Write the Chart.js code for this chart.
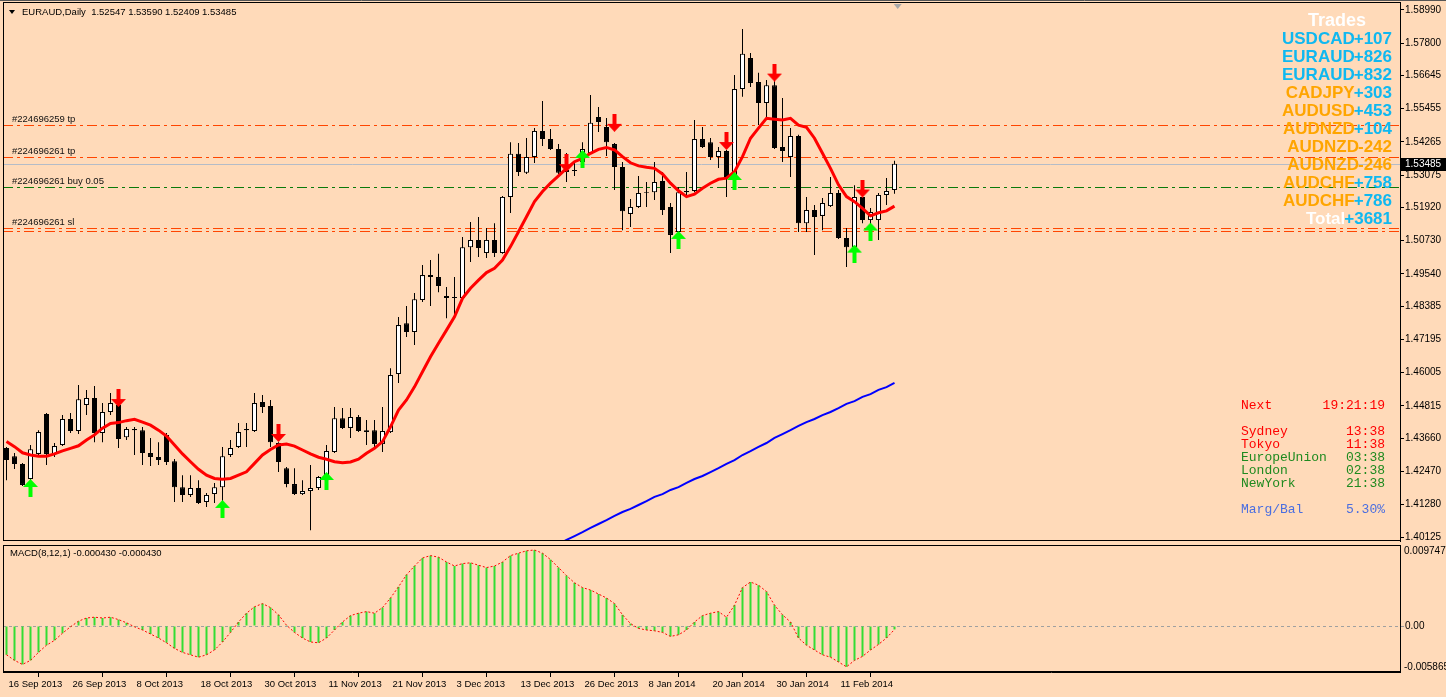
<!DOCTYPE html>
<html><head><meta charset="utf-8">
<script src="https://cdn.jsdelivr.net/npm/chart.js@4.4.1/dist/chart.umd.min.js"></script>
<style>
html,body{margin:0;padding:0;background:#FFDAB9;width:1446px;height:697px;overflow:hidden;}
#wrap{position:relative;width:1446px;height:697px;}
#c1{position:absolute;left:0;top:0;}
#c2{position:absolute;left:0;top:543px;}
</style></head><body>
<div id="wrap"><canvas id="c1" width="1446" height="543"></canvas><canvas id="c2" width="1446" height="154"></canvas></div>
<script>
// ---------------- DATA ----------------
const symbolTitle = "EURAUD,Daily";
const opens = [1.4331,1.4302,1.4274,1.4220,1.4310,1.4453,1.4310,1.4342,1.4435,1.4392,
1.4485,1.4510,1.4385,1.4460,1.4485,1.4370,1.4395,1.4395,1.4313,1.4299,
1.4378,1.4284,1.4191,1.4163,1.4188,1.4138,1.4166,1.4191,1.4306,1.4335,
1.4395,1.4392,1.4496,1.4481,1.4349,1.4259,1.4202,1.4166,1.4177,1.4188,
1.4216,1.4317,1.4438,1.4403,1.4442,1.4388,1.4395,1.4345,1.4388,1.4596,
1.4778,1.4746,1.4861,1.4950,1.4943,1.4875,1.4868,1.4868,1.5050,1.5076,
1.5029,1.5076,1.5029,1.5230,1.5384,1.5316,1.5373,1.5466,1.5437,1.5401,
1.5319,1.5323,1.5355,1.5387,1.5516,1.5480,1.5419,1.5337,1.5169,1.5194,
1.5244,1.5247,1.5287,1.5194,1.5104,1.5247,1.5251,1.5437,1.5426,1.5373,
1.5394,1.5301,1.5616,1.5727,1.5641,1.5566,1.5630,1.5409,1.5373,1.5448,
1.5136,1.5183,1.5162,1.5197,1.5244,1.5083,1.5050,1.5230,1.5147,1.5147,
1.5237,1.52547];
const highs = [1.4335,1.4313,1.4277,1.4342,1.4395,1.4456,1.4349,1.4449,1.4456,1.4557,
1.4539,1.4553,1.4492,1.4528,1.4489,1.4406,1.4406,1.4406,1.4367,1.4352,
1.4385,1.4292,1.4234,1.4234,1.4216,1.4170,1.4206,1.4335,1.4360,1.4421,
1.4421,1.4528,1.4521,1.4503,1.4352,1.4263,1.4259,1.4216,1.4270,1.4231,
1.4342,1.4478,1.4474,1.4474,1.4449,1.4431,1.4431,1.4478,1.4617,1.4800,
1.4839,1.4886,1.4986,1.5004,1.5026,1.4907,1.4943,1.5086,1.5140,1.5158,
1.5119,1.5136,1.5233,1.5426,1.5423,1.5441,1.5477,1.5573,1.5473,1.5419,
1.5387,1.5355,1.5426,1.5595,1.5552,1.5512,1.5423,1.5355,1.5222,1.5305,
1.5283,1.5355,1.5319,1.5208,1.5265,1.5319,1.5505,1.5480,1.5441,1.5409,
1.5398,1.5666,1.5831,1.5745,1.5674,1.5648,1.5648,1.5584,1.5477,1.5452,
1.5230,1.5201,1.5226,1.5301,1.5255,1.5119,1.5272,1.5230,1.5190,1.5244,
1.5298,1.53590];
const lows = [1.4216,1.4256,1.4195,1.4216,1.4306,1.4270,1.4299,1.4338,1.4385,1.4381,
1.4449,1.4352,1.4352,1.4449,1.4331,1.4360,1.4306,1.4270,1.4267,1.4270,
1.4270,1.4138,1.4138,1.4156,1.4131,1.4120,1.4134,1.4120,1.4299,1.4331,
1.4335,1.4388,1.4456,1.4335,1.4245,1.4191,1.4163,1.4163,1.4037,1.4181,
1.4213,1.4313,1.4399,1.4367,1.4388,1.4342,1.4335,1.4317,1.4385,1.4564,
1.4728,1.4700,1.4854,1.4839,1.4889,1.4796,1.4800,1.4861,1.4997,1.5015,
1.5011,1.5015,1.5026,1.5172,1.5305,1.5312,1.5351,1.5412,1.5398,1.5312,
1.5283,1.5305,1.5344,1.5384,1.5462,1.5376,1.5255,1.5111,1.5122,1.5190,
1.5194,1.5219,1.5165,1.5029,1.5101,1.5226,1.5247,1.5405,1.5362,1.5333,
1.5230,1.5290,1.5588,1.5623,1.5487,1.5516,1.5401,1.5355,1.5301,1.5104,
1.5104,1.5022,1.5111,1.5194,1.5079,1.4979,1.5029,1.5136,1.5076,1.5076,
1.5201,1.52409];
const closes = [1.4288,1.4274,1.4199,1.4327,1.4388,1.4310,1.4338,1.4435,1.4392,1.4506,
1.4510,1.4385,1.4460,1.4492,1.4363,1.4399,1.4399,1.4313,1.4299,1.4288,
1.4281,1.4191,1.4163,1.4188,1.4134,1.4163,1.4191,1.4302,1.4331,1.4388,
1.4399,1.4492,1.4478,1.4352,1.4281,1.4202,1.4166,1.4177,1.4188,1.4227,
1.4320,1.4438,1.4403,1.4442,1.4392,1.4395,1.4345,1.4392,1.4592,1.4771,
1.4746,1.4864,1.4950,1.4943,1.4911,1.4868,1.4872,1.5050,1.5076,1.5047,
1.5076,1.5029,1.5230,1.5384,1.5319,1.5373,1.5466,1.5437,1.5401,1.5316,
1.5326,1.5326,1.5401,1.5495,1.5498,1.5426,1.5337,1.5179,1.5194,1.5244,
1.5247,1.5283,1.5183,1.5094,1.5247,1.5251,1.5437,1.5409,1.5373,1.5394,
1.5301,1.5616,1.5742,1.5638,1.5566,1.5630,1.5405,1.5394,1.5448,1.5136,
1.5183,1.5158,1.5208,1.5244,1.5083,1.5050,1.5230,1.5147,1.5176,1.5237,
1.5251,1.53485];
// red moving average
const maValues = [1.4354,1.4336,1.4314,1.4306,1.4302,1.4302,1.4310,1.4321,1.4330,1.4339,
1.4360,1.4378,1.4402,1.4419,1.4422,1.4429,1.4434,1.4424,1.4413,1.4395,
1.4374,1.4342,1.4310,1.4282,1.4255,1.4234,1.4222,1.4219,1.4222,1.4234,
1.4246,1.4276,1.4306,1.4326,1.4342,1.4345,1.4338,1.4324,1.4310,1.4298,
1.4291,1.4282,1.4278,1.4281,1.4291,1.4312,1.4330,1.4354,1.4407,1.4467,
1.4503,1.4550,1.4604,1.4658,1.4706,1.4753,1.4801,1.4867,1.4903,1.4932,
1.4959,1.4974,1.5004,1.5052,1.5105,1.5159,1.5213,1.5249,1.5279,1.5305,
1.5332,1.5356,1.5368,1.5386,1.5400,1.5407,1.5398,1.5374,1.5352,1.5341,
1.5336,1.5332,1.5312,1.5279,1.5252,1.5231,1.5240,1.5261,1.5279,1.5293,
1.5297,1.5320,1.5374,1.5440,1.5476,1.5511,1.5508,1.5505,1.5511,1.5487,
1.5479,1.5440,1.5386,1.5332,1.5273,1.5231,1.5213,1.5189,1.5162,1.5173,
1.5180,1.5197];
// blue slow moving average, starting at bar index slowMaStart
const slowMaStart = 68;
const slowMaValues = [1.3973,1.3987,1.4002,1.4016,1.4030,1.4045,1.4059,1.4073,1.4088,1.4102,
1.4113,1.4127,1.4141,1.4156,1.4166,1.4181,1.4191,1.4206,1.4220,1.4231,
1.4245,1.4259,1.4274,1.4288,1.4306,1.4320,1.4335,1.4349,1.4367,1.4381,
1.4395,1.4410,1.4424,1.4435,1.4449,1.4460,1.4474,1.4489,1.4499,1.4514,
1.4524,1.4539,1.4549,1.4564];
// MACD(8,12,1) main = signal (signal period 1)
const macdValues = [-0.0036,-0.0043,-0.0048,-0.0043,-0.0033,-0.0024,-0.0018,-0.0009,-0.0001,0.0006,
0.0010,0.0011,0.0010,0.0011,0.0008,0.0004,-0.0001,-0.0005,-0.0010,-0.0015,
-0.0021,-0.0028,-0.0033,-0.0036,-0.0039,-0.0036,-0.0030,-0.0020,-0.0008,0.0005,
0.0016,0.0024,0.0028,0.0023,0.0014,0.0001,-0.0008,-0.0015,-0.0020,-0.0021,
-0.0015,-0.0005,0.0005,0.0013,0.0016,0.0018,0.0016,0.0023,0.0035,0.0049,
0.0064,0.0075,0.0085,0.0088,0.0086,0.0080,0.0075,0.0078,0.0079,0.0076,
0.0073,0.0075,0.0080,0.0088,0.0091,0.0094,0.0095,0.0091,0.0083,0.0073,
0.0063,0.0054,0.0048,0.0045,0.0040,0.0035,0.0028,0.0014,0.0003,-0.0003,
-0.0005,-0.0006,-0.0008,-0.0013,-0.0011,-0.0005,0.0005,0.0013,0.0016,0.0018,
0.0011,0.0026,0.0048,0.0055,0.0051,0.0043,0.0026,0.0014,0.0005,-0.0015,
-0.0024,-0.0030,-0.0036,-0.0039,-0.0045,-0.0051,-0.0043,-0.0038,-0.0030,-0.0023,
-0.0015,-0.000430];
const macdAxisTop = 0.009747, macdAxisBottom = -0.005865;
// signal arrows (bar index, price at arrow centre)
const sellArrowBars = [14,34,70,76,90,96,107];
const sellArrowPrices = [1.4510,1.4385,1.5351,1.5495,1.5430,1.5675,1.5260];
const buyArrowBars = [3,27,40,72,84,91,106,108];
const buyArrowPrices = [1.4188,1.4113,1.4213,1.5366,1.5076,1.5287,1.5027,1.5106];
// order lines
const orderLevels = [1.54873,1.53738,1.52643,1.51186,1.51078];
const orderLabels = ["#224696259 tp","#224696261 tp","#224696261 buy 0.05","#224696261 sl",""];
const orderKinds = ["tp","tp","buy","sl","sl"];
// axis ticks
const priceTicks = [1.58990,1.57800,1.56645,1.55455,1.54265,1.53075,1.51920,1.50730,1.49540,1.48385,1.47195,1.46005,1.44815,1.43660,1.42470,1.41280,1.40125];
const xTickBars = [0,8,16,24,32,40,48,56,64,72,80,88,96,104];
const xTickLabels = ["16 Sep 2013","26 Sep 2013","8 Oct 2013","18 Oct 2013","30 Oct 2013","11 Nov 2013","21 Nov 2013","3 Dec 2013","13 Dec 2013","26 Dec 2013","8 Jan 2014","20 Jan 2014","30 Jan 2014","11 Feb 2014"];
// trades panel
const tradeSymbols = ["USDCAD","EURAUD","EURAUD","CADJPY","AUDUSD","AUDNZD","AUDNZD","AUDNZD","AUDCHF","AUDCHF"];
const tradeProfits = [107,826,832,303,453,104,-242,-246,758,786];
const tradeSides = ["a","a","a","b","b","b","b","b","b","b"];
const tradeTotal = 3681;
// session panel
const sessionNames = ["Sydney","Tokyo","EuropeUnion","London","NewYork"];
const sessionTimes = ["13:38","11:38","03:38","02:38","21:38"];
const sessionOpen = [false,false,true,true,true];
const nextTime = "19:21:19";
const margBal = "5.30%";

// ---------------- HELPERS ----------------
const N = closes.length;
const idx = Array.from({length:N},(_,i)=>i);
const xMin = -0.4375, xMax = 174.1875;
const yMax = 1.59276, yMin = 1.39982;
const FONT = '"Liberation Sans", Arial, sans-serif';
const fmt5 = v => v.toFixed(5);
const noPad = s => { s.paddingTop = 0; s.paddingBottom = 0; s.paddingLeft = 0; s.paddingRight = 0; };

function makeArrow(color, down){
  const c = document.createElement('canvas'); c.width = 15; c.height = 18;
  const g = c.getContext('2d'); g.fillStyle = color;
  g.save();
  if(down){ g.translate(0,18); g.scale(1,-1); }
  g.beginPath();
  g.moveTo(7.5,0); g.lineTo(15,8); g.lineTo(9.5,8); g.lineTo(9.5,18); g.lineTo(5.5,18); g.lineTo(5.5,8); g.lineTo(0,8); g.closePath();
  g.fill(); g.restore();
  return c;
}
const downArrow = makeArrow('#ff0000', true);
const upArrow = makeArrow('#00ff00', false);

// ---------------- MAIN CHART PLUGINS ----------------
const priceDecor = {
  id:'priceDecor',
  beforeDatasetsDraw(chart){
    const {ctx, chartArea:a, scales:{y}} = chart;
    ctx.save();
    const by = Math.round(y.getPixelForValue(closes[N-1])) + 0.5;
    ctx.strokeStyle = '#b4bcc8'; ctx.lineWidth = 1;
    ctx.beginPath(); ctx.moveTo(a.left, by); ctx.lineTo(a.right, by); ctx.stroke();
    ctx.setLineDash([10,4,3,4]);
    orderLevels.forEach((lv,k)=>{
      const py = Math.round(y.getPixelForValue(lv)) + 0.5;
      ctx.strokeStyle = orderKinds[k]==='buy' ? '#0a7a0a' : '#ff4500';
      ctx.beginPath(); ctx.moveTo(a.left, py); ctx.lineTo(a.right, py); ctx.stroke();
    });
    ctx.setLineDash([]);
    ctx.font = '9.5px ' + FONT; ctx.fillStyle = '#111'; ctx.textAlign='left'; ctx.textBaseline='alphabetic';
    orderLevels.forEach((lv,k)=>{
      if(!orderLabels[k]) return;
      const py = y.getPixelForValue(lv);
      ctx.fillText(orderLabels[k], 12, py - 3);
    });
    ctx.restore();
  },
  afterDraw(chart){
    const {ctx, chartArea:a, scales:{x,y}} = chart;
    ctx.save();
    ctx.strokeStyle = '#000'; ctx.lineWidth = 1;
    ctx.strokeRect(a.left+0.5, a.top+0.5, a.right-a.left, a.bottom-a.top-1);
    ctx.beginPath(); ctx.moveTo(0,0.5); ctx.lineTo(1446,0.5); ctx.strokeStyle='#555'; ctx.stroke();
    ctx.fillStyle = '#000';
    ctx.beginPath(); ctx.moveTo(9,10); ctx.lineTo(15,10); ctx.lineTo(12,14); ctx.closePath(); ctx.fill();
    ctx.font = '9.5px ' + FONT; ctx.textAlign='left'; ctx.textBaseline='middle';
    ctx.fillText(symbolTitle + '  ' + [opens[N-1],highs[N-1],lows[N-1],closes[N-1]].map(fmt5).join(' '), 22, 12);
    const sx = x.getPixelForValue(N-1+0.4);
    ctx.fillStyle = '#a8a8a8';
    ctx.beginPath(); ctx.moveTo(sx-4,4); ctx.lineTo(sx+4,4); ctx.lineTo(sx,9); ctx.closePath(); ctx.fill();
    const by = Math.round(y.getPixelForValue(closes[N-1]));
    ctx.fillStyle = '#000'; ctx.fillRect(a.right+1, by-6, 1446-a.right-1, 13);
    ctx.fillStyle = '#fff'; ctx.font = '10px ' + FONT; ctx.textBaseline='middle';
    ctx.fillText(fmt5(closes[N-1]), a.right+5, by+0.5);
    const blue = '#10b8f0', orange = '#ffa500';
    ctx.textBaseline = 'middle';
    ctx.font = 'bold 18px ' + FONT;
    ctx.fillStyle = '#ffffff'; ctx.textAlign='center';
    ctx.fillText('Trades', 1337, 21);
    ctx.font = 'bold 17px ' + FONT;
    const rightX = 1392;
    const rows = tradeSymbols.map((s,k)=>({name:s, val:(tradeProfits[k]>=0?'+':'')+tradeProfits[k],
      nameColor: tradeSides[k]==='a'?blue:orange, valColor: tradeProfits[k]>=0?blue:orange}));
    rows.push({name:'Total', val:'+'+tradeTotal, nameColor:'#ffffff', valColor:blue});
    rows.forEach((r,k)=>{
      const ry = 39 + 18*k;
      ctx.textAlign='right';
      ctx.fillStyle = r.nameColor;
      const w = ctx.measureText(r.val).width;
      ctx.fillText(r.name, rightX - w + 1, ry);
      ctx.fillStyle = r.valColor;
      ctx.fillText(r.val, rightX, ry);
    });
    ctx.font = '13px "Liberation Mono", "Courier New", monospace';
    ctx.textBaseline='middle';
    const lx = 1241, rx = 1385;
    ctx.fillStyle = '#ff0000'; ctx.textAlign='left'; ctx.fillText('Next', lx, 406);
    ctx.textAlign='right'; ctx.fillText(nextTime, rx, 406);
    sessionNames.forEach((s,k)=>{
      const ry = 432 + 13*k;
      ctx.fillStyle = sessionOpen[k] ? '#1f8a1f' : '#ff0000';
      ctx.textAlign='left'; ctx.fillText(s, lx, ry);
      ctx.textAlign='right'; ctx.fillText(sessionTimes[k], rx, ry);
    });
    ctx.fillStyle = '#4a6ee0';
    ctx.textAlign='left'; ctx.fillText('Marg/Bal', lx, 510);
    ctx.textAlign='right'; ctx.fillText(margBal, rx, 510);
    ctx.restore();
  }
};

const priceChart = new Chart(document.getElementById('c1'), {
  type:'bar',
  data:{ datasets:[
    {type:'line', label:'Sell', data: sellArrowBars.map((b,k)=>({x:b,y:sellArrowPrices[k]})), showLine:false, pointStyle:downArrow, pointRadius:8, order:0},
    {type:'line', label:'Buy', data: buyArrowBars.map((b,k)=>({x:b,y:buyArrowPrices[k]})), showLine:false, pointStyle:upArrow, pointRadius:8, order:0},
    {type:'line', label:'MA', data: maValues.map((v,i)=>({x:i,y:v})), borderColor:'#ff0000', borderWidth:3, pointRadius:0, tension:0, order:1},
    {type:'line', label:'MA slow', data: slowMaValues.map((v,k)=>({x:slowMaStart+k,y:v})), borderColor:'#0000ff', borderWidth:2, pointRadius:0, tension:0, order:1},
    {type:'bar', label:'Body', data: idx.map(i=>({x:i,y:[opens[i],closes[i]]})),
      backgroundColor: idx.map(i=> closes[i]>=opens[i] ? '#ffffff' : '#000000'),
      borderColor:'#000000', borderWidth:1, borderSkipped:false, barThickness:5, grouped:false, inflateAmount:0, order:2},
    {type:'bar', label:'Wick', data: idx.map(i=>({x:i,y:[lows[i],highs[i]]})),
      backgroundColor:'#000000', borderWidth:0, barThickness:1, grouped:false, inflateAmount:0, order:3}
  ]},
  options:{
    responsive:false, animation:false, devicePixelRatio:1,
    layout:{autoPadding:false, padding:{left:3,top:2,right:0,bottom:2}},
    plugins:{legend:{display:false}, tooltip:{enabled:false}},
    scales:{
      x:{type:'linear', min:xMin, max:xMax, offset:false, display:false, afterFit: noPad},
      y:{position:'right', min:yMin, max:yMax,
        afterBuildTicks: s => { s.ticks = priceTicks.map(v=>({value:v})); },
        afterFit: s => { s.width = 46; noPad(s); },
        ticks:{autoSkip:false, padding:1, color:'#000', font:{family:FONT, size:10}, callback: v => fmt5(v)},
        grid:{drawOnChartArea:false, drawTicks:true, tickLength:4, color:'#000'},
        border:{display:true, color:'#000'}
      }
    }
  },
  plugins:[priceDecor]
});

// ---------------- MACD CHART ----------------
const macdDecor = {
  id:'macdDecor',
  beforeDatasetsDraw(chart){
    const {ctx, chartArea:a, scales:{y}} = chart;
    ctx.save();
    const zy = Math.round(y.getPixelForValue(0)) + 0.5;
    ctx.strokeStyle = '#a0a0a0'; ctx.setLineDash([3,3]);
    ctx.beginPath(); ctx.moveTo(a.left, zy); ctx.lineTo(a.right, zy); ctx.stroke();
    ctx.restore();
  },
  afterDraw(chart){
    const {ctx, chartArea:a} = chart;
    ctx.save();
    ctx.strokeStyle = '#000'; ctx.lineWidth = 1;
    ctx.strokeRect(a.left+0.5, a.top+0.5, a.right-a.left, a.bottom-a.top-1);
    ctx.fillStyle = '#000'; ctx.font = '9.5px ' + FONT; ctx.textAlign='left'; ctx.textBaseline='middle';
    ctx.fillText('MACD(8,12,1) ' + macdValues[N-1].toFixed(6) + ' ' + macdValues[N-1].toFixed(6), 10, 10);
    ctx.font = '10px ' + FONT;
    ctx.fillText(macdAxisTop.toFixed(6), a.right+4, a.top+6);
    ctx.fillText(macdAxisBottom.toFixed(6), a.right+4, a.bottom-5);
    ctx.restore();
  }
};
const macdChart = new Chart(document.getElementById('c2'), {
  type:'bar',
  data:{ datasets:[
    {type:'line', label:'Signal', data: macdValues.map((v,i)=>({x:i,y:v})), borderColor:'#ff0000', borderWidth:1, borderDash:[2,2], pointRadius:0, tension:0, order:0},
    {type:'bar', label:'MACD', data: macdValues.map((v,i)=>({x:i,y:v})), backgroundColor:'#33dd33', borderWidth:0, barThickness:2, grouped:false, inflateAmount:0, order:1}
  ]},
  options:{
    responsive:false, animation:false, devicePixelRatio:1,
    layout:{autoPadding:false, padding:{left:3,top:2,right:0,bottom:0}},
    plugins:{legend:{display:false}, tooltip:{enabled:false}},
    scales:{
      x:{type:'linear', min:xMin, max:xMax, offset:false,
        afterBuildTicks: s => { s.ticks = xTickBars.map(v=>({value:v})); },
        afterFit: s => { s.height = 25; noPad(s); },
        ticks:{autoSkip:false, maxRotation:0, minRotation:0, align:'start', labelOffset:2, padding:2, color:'#000', font:{family:FONT, size:9.5}, callback:(v,k)=>xTickLabels[k]},
        grid:{drawOnChartArea:false, drawTicks:true, tickLength:5, color:'#000'},
        border:{display:true, color:'#000'}
      },
      y:{position:'right', min:-0.00575, max:0.010125,
        afterBuildTicks: s => { s.ticks = [{value:0}]; },
        afterFit: s => { s.width = 46; noPad(s); },
        ticks:{padding:1, color:'#000', font:{family:FONT, size:10}, callback: () => '0.00'},
        grid:{drawOnChartArea:false, drawTicks:true, tickLength:4, color:'#999'},
        border:{display:true, color:'#000'}
      }
    }
  },
  plugins:[macdDecor]
});
</script>
</body></html>
